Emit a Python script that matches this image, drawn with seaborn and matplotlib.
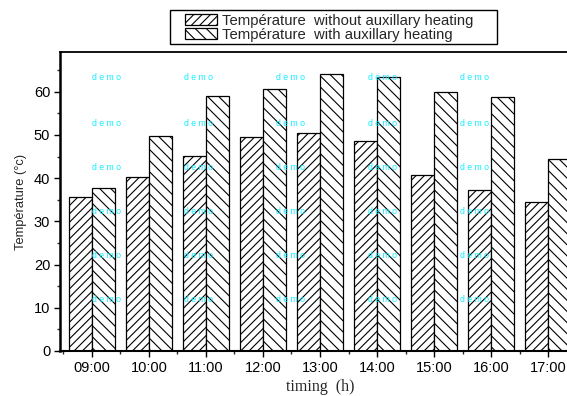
import matplotlib
matplotlib.use("Agg")
import matplotlib.pyplot as plt
import seaborn as sns
import pandas as pd
from matplotlib.ticker import MultipleLocator, FixedLocator
from matplotlib.patches import Patch, Rectangle

times = ["09:00", "10:00", "11:00", "12:00", "13:00", "14:00", "15:00", "16:00", "17:00"]
without_heating = [35.7, 40.2, 45.1, 49.6, 50.5, 48.7, 40.7, 37.3, 34.5]
with_heating = [37.7, 49.8, 59.1, 60.6, 64.1, 63.3, 60.0, 58.8, 44.5]
series_names = ["Température  without auxillary heating", "Température  with auxillary heating"]

df = pd.DataFrame({
    "time": times * 2,
    "temp": without_heating + with_heating,
    "series": [series_names[0]] * len(times) + [series_names[1]] * len(times),
})

sns.set_style("ticks")
plt.rcParams["font.family"] = ["Liberation Sans", "DejaVu Sans"]
plt.rcParams["hatch.linewidth"] = 0.8

fig = plt.figure(figsize=(5.67, 3.96), dpi=100)
ax = fig.add_axes([60 / 567, 1 - 351 / 396, 520 / 567, 299 / 396])

sns.barplot(data=df, x="time", y="temp", hue="series", order=times,
            hue_order=series_names, palette=["white", "white"],
            edgecolor="black", linewidth=0.9, width=0.8, ax=ax,
            legend=False, saturation=1)

hatches = ["////", "\\\\\\"]
for cont, h in zip(ax.containers, hatches):
    for bar in cont:
        bar.set_hatch(h)
        bar.set_facecolor("white")
        bar.set_edgecolor("black")

ax.set_xlim(-0.56, 8.56)
ax.set_ylim(0, 69.2)
ax.yaxis.set_major_locator(MultipleLocator(10))
ax.yaxis.set_minor_locator(MultipleLocator(5))
ax.xaxis.set_minor_locator(FixedLocator([i + 0.5 for i in range(-1, len(times))]))
ax.tick_params(axis="both", which="major", direction="out", length=4, width=1,
               labelsize=10.5, colors="black")
ax.tick_params(axis="both", which="minor", direction="out", length=2.5, width=1)
ax.tick_params(axis="x", which="major", pad=3)
ax.tick_params(axis="y", which="major", pad=3)

for s in ["left", "top", "bottom", "right"]:
    ax.spines[s].set_color("black")
ax.spines["left"].set_linewidth(1.8)
ax.spines["bottom"].set_linewidth(1.5)
ax.spines["top"].set_linewidth(1.3)
ax.spines["right"].set_linewidth(1.3)

ax.set_ylabel("Température (°c)", fontsize=9.3, labelpad=5)
ax.set_xlabel("timing  (h)", fontsize=11.5, family=["Liberation Serif", "DejaVu Serif"], labelpad=3)

# legend frame drawn as a separate rectangle
fig.patches.append(Rectangle((170 / 567, 1 - 44 / 396), 327 / 567, 34 / 396,
                             transform=fig.transFigure, facecolor="white",
                             edgecolor="black", linewidth=1.0, zorder=1))
handles = [Patch(facecolor="white", edgecolor="black", hatch=h, linewidth=0.9) for h in hatches]
leg = fig.legend(handles, series_names, loc="upper left",
                 bbox_to_anchor=(185 / 567, 1 - 13.5 / 396), fontsize=10.7,
                 frameon=False, borderpad=0.0, labelspacing=0.0, handlelength=2.15,
                 handleheight=0.8, handletextpad=0.35, borderaxespad=0)
leg.set_zorder(2)

demo_x = [107, 199, 291, 383, 475]
demo_y = [78, 123, 167, 211, 256, 300]
for yy in demo_y:
    for xx in demo_x:
        fig.text(xx / 567, 1 - yy / 396, "d e m o", color="#11eeff",
                 fontsize=6.3, ha="center", va="center", zorder=10)

fig.savefig("out.png", dpi=100)
